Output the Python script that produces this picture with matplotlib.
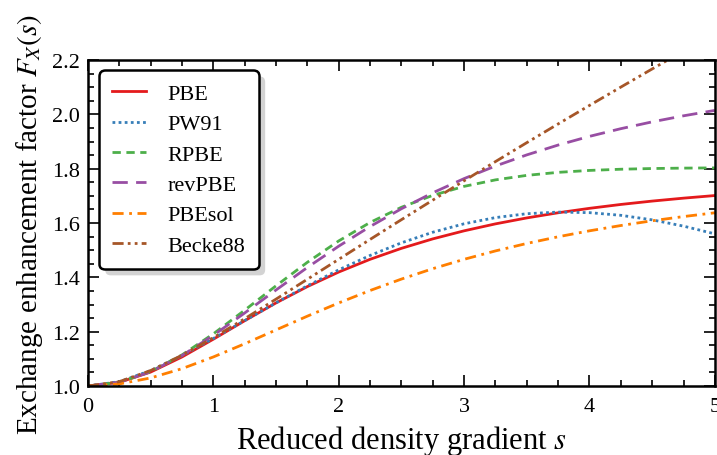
import matplotlib
matplotlib.use("Agg")
import matplotlib.pyplot as plt
from matplotlib.ticker import MultipleLocator
from matplotlib.patches import Shadow

plt.rcParams['font.family'] = ['Liberation Serif', 'DejaVu Serif']
plt.rcParams['mathtext.fontset'] = 'stix'

s = [0.0, 0.25, 0.5, 0.75, 1.0, 1.25, 1.5, 1.75, 2.0, 2.25, 2.5, 2.75,
     3.0, 3.25, 3.5, 3.75, 4.0, 4.25, 4.5, 4.75, 5.0]

pbe = [1.0, 1.0135, 1.0514, 1.1070, 1.1724, 1.2404, 1.3060, 1.3661, 1.4197,
       1.4665, 1.5069, 1.5417, 1.5714, 1.5970, 1.6189, 1.6379, 1.6542,
       1.6685, 1.6809, 1.6917, 1.7013]
pw91 = [1.0, 1.0160, 1.0568, 1.1121, 1.1750, 1.2408, 1.3062, 1.3690, 1.4277,
        1.4807, 1.5272, 1.5662, 1.5973, 1.6201, 1.6344, 1.6404, 1.6383,
        1.6285, 1.6118, 1.5887, 1.5602]
rpbe = [1.0, 1.0136, 1.0530, 1.1145, 1.1921, 1.2792, 1.3690, 1.4556, 1.5342,
        1.6022, 1.6581, 1.7020, 1.7351, 1.7590, 1.7756, 1.7867, 1.7938,
        1.7982, 1.8008, 1.8023, 1.8031]
revpbe = [1.0, 1.0136, 1.0526, 1.1123, 1.1866, 1.2689, 1.3536, 1.4365, 1.5149,
          1.5872, 1.6527, 1.7114, 1.7637, 1.8100, 1.8510, 1.8872, 1.9192,
          1.9475, 1.9726, 1.9949, 2.0148]
pbesol = [1.0, 1.0076, 1.0297, 1.0639, 1.1070, 1.1556, 1.2065, 1.2572, 1.3059,
          1.3516, 1.3937, 1.4320, 1.4665, 1.4974, 1.5249, 1.5495, 1.5714,
          1.5909, 1.6084, 1.6239, 1.6378]
becke88 = [1.0, 1.0160, 1.0570, 1.1132, 1.1781, 1.2478, 1.3199, 1.3931, 1.4665,
           1.5397, 1.6124, 1.6844, 1.7557, 1.8263, 1.8960, 1.9649, 2.0331,
           2.1006, 2.1674, 2.2335, 2.2990]

labels = ['PBE', 'PW91', 'RPBE', 'revPBE', 'PBEsol', 'Becke88']
series = [pbe, pw91, rpbe, revpbe, pbesol, becke88]
colors = ['#e41a1c', '#377eb8', '#4daf4a', '#984ea3', '#ff7f00', '#a65628']
styles = ['-', (0, (1, 1.2)), (0, (3, 2)), (0, (5.5, 3)), (0, (4, 2, 1, 2)),
          (0, (4, 1.5, 1, 1.5, 1, 1.5))]

fig = plt.figure(figsize=(7.17, 4.56), dpi=100)
ax = fig.add_axes([0.1227, 0.1513, 0.8743, 0.7147])

for lab, ys, c, ls in zip(labels, series, colors, styles):
    ax.plot(s, ys, color=c, linestyle=ls, linewidth=2.0, label=lab)

ax.set_xlim(0, 5)
ax.set_ylim(1.0, 2.2)
ax.xaxis.set_major_locator(MultipleLocator(1))
ax.xaxis.set_minor_locator(MultipleLocator(0.25))
ax.yaxis.set_major_locator(MultipleLocator(0.2))
ax.yaxis.set_minor_locator(MultipleLocator(0.05))
ax.tick_params(which='both', direction='in', top=True, right=True,
               labelsize=16, width=1.2)
ax.tick_params(which='major', length=8, pad=6)
ax.tick_params(axis='x', which='major', pad=8)
ax.tick_params(which='minor', length=4)
for sp in ax.spines.values():
    sp.set_linewidth(1.8)

ax.set_xlabel('Reduced density gradient $s$', fontsize=22, labelpad=5)
ax.set_ylabel('Exchange enhancement factor $F_X(s)$', fontsize=21, labelpad=5)

leg = ax.legend(loc='upper left', fontsize=16, shadow=False, fancybox=True,
                framealpha=1, borderpad=0.6, labelspacing=0.44,
                handlelength=1.5, handletextpad=1.0, borderaxespad=0,
                bbox_to_anchor=(0.0175, 0.969))
leg.get_frame().set_edgecolor('black')
leg.get_frame().set_linewidth(1.8)
leg.get_frame().set_boxstyle('round,pad=0,rounding_size=0.25')
leg.set_zorder(10)

fig.canvas.draw()
sh = Shadow(leg.legendPatch, 4.5, -4.5, facecolor='#a8a8a8', edgecolor='none')
sh.set_zorder(9)
ax.add_artist(sh)

fig.savefig('out.png', dpi=100)
